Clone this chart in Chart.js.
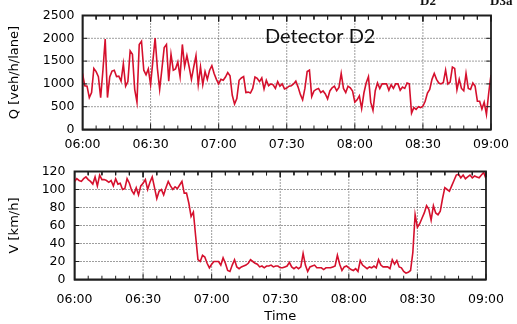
<!DOCTYPE html>
<html>
<head>
<meta charset="utf-8">
<script src="https://cdn.jsdelivr.net/npm/chart.js@4.4.1/dist/chart.umd.min.js"></script>
<style>
  body { margin: 0; background: #fff; }
  #wrap { position: relative; width: 517px; height: 324px; overflow: hidden; }
  canvas { position: absolute; left: 0; }
</style>
</head>
<body>
<div id="wrap">
  <canvas id="flowChart" width="517" height="155" style="top:0"></canvas>
  <canvas id="speedChart" width="517" height="169" style="top:155px"></canvas>
</div>
<script>
/* ---- detector D2, one sample per minute from 06:00 to 09:00 ---- */

// flow Q [veh/h/lane]
const flowQ = [
  1230, 960, 950, 700, 810, 1340, 1270, 1160, 700, 1300,
  1985, 700, 1150, 1280, 1300, 1160, 1170, 1060, 1440, 950,
  1050, 1725, 1650, 880, 600, 1865, 1936, 1300, 1200, 1330,
  985, 1500, 2006, 1340, 880, 1330, 1795, 1865, 1060, 1650,
  1300, 1330, 1480, 1160, 1865, 1380, 1620, 1370, 1100, 1370,
  1620, 985, 1370, 985, 1270, 1100, 1300, 1400, 1230, 1100,
  1000, 1100, 1080, 1150, 1250, 1180, 750, 560, 680, 1080,
  1130, 1160, 810, 820, 800, 900, 1150, 1120, 1050, 1130,
  890, 1080, 960, 1000, 980, 900, 1050, 950, 1000, 890,
  910, 950, 960, 1000, 1060, 930, 770, 650, 900, 1270,
  1300, 720, 845, 880, 900, 810, 845, 780, 670, 845,
  915, 950, 850, 920, 1230, 900, 810, 950, 915, 845,
  600, 650, 740, 460, 800, 1020, 1160, 600, 420, 850,
  1020, 900, 1000, 1000, 1000, 860, 980, 900, 1000, 1000,
  860, 930, 900, 1020, 1000, 360, 480, 440, 500, 480,
  510, 620, 800, 880, 1100, 1230, 1100, 1020, 1000, 1030,
  1300, 1000, 1040, 1370, 1340, 870, 1100, 900, 850, 1230,
  900, 880, 1020, 950, 620, 620, 450, 600, 330, 800,
  1200
];

// speed V [km/h]
const speedV = [
  109, 112, 110, 109, 112, 114, 111, 109, 106, 114,
  104, 116, 111, 111, 110, 108, 110, 104, 112, 106,
  107, 100, 101, 112, 107, 99, 95, 102, 94, 104,
  107, 111, 100, 108, 114, 102, 90, 98, 100, 94,
  102, 109, 104, 100, 103, 101, 105, 109, 96, 96,
  85, 70, 75, 48, 22, 20, 27, 25, 18, 13,
  17, 20, 20, 20, 16, 24, 18, 10, 9, 16,
  22, 14, 12, 14, 15, 16, 18, 22, 20, 18,
  17, 14, 15, 13, 15, 15, 16, 14, 15, 15,
  13, 13, 14, 15, 19, 14, 12, 14, 12, 14,
  29, 16, 9, 14, 15, 16, 13, 13, 13, 11,
  13, 13, 13, 14, 15, 27, 17, 10, 14, 15,
  13, 11, 10, 12, 9, 21, 16, 14, 12, 14,
  13, 15, 13, 22, 16, 14, 14, 14, 12, 22,
  17, 21, 14, 13, 9, 7, 8, 10, 30, 72,
  58, 62, 68, 74, 82, 78, 66, 82, 74, 72,
  76, 90, 102, 100, 98, 104, 110, 116, 117, 113,
  116, 112, 114, 116, 113, 115, 114, 113, 116, 119,
  112
];

const timeTicks = ['06:00', '06:30', '07:00', '07:30', '08:00', '08:30', '09:00'];
const flowTicks = [0, 500, 1000, 1500, 2000, 2500];
const speedTicks = [0, 20, 40, 60, 80, 100, 120];

const RED = 'rgb(213,16,45)';
const FONT = 'DejaVu Sans';
const FRAME = 'rgb(30,30,30)';
const GRID = 'rgb(60,60,60)';
const MINOR_STEP = 6;    // minutes between small time tics
const MAJOR_STEP = 30;   // minutes between labelled tics
const T_MAX = (timeTicks.length - 1) * MAJOR_STEP;

function toPoints(arr) {
  return arr.map((v, i) => ({ x: i, y: v }));
}

/* ---- gnuplot look built from plain line datasets:
        dotted grid, box frame and inward tics ---- */
function frameDatasets(yTicks) {
  const lo = yTicks[0], hi = yTicks[yTicks.length - 1];
  const yLen = (hi - lo) * 0.035;   // tic length along y, ~4 px
  const xLen = T_MAX * 0.012;       // tic length along x, ~5 px
  const grid = [], box = [], tics = [];

  for (let i = 1; i < timeTicks.length - 1; i++) {
    const t = i * MAJOR_STEP;
    grid.push({ x: t, y: lo }, { x: t, y: hi }, { x: t, y: null });
  }
  for (let i = 1; i < yTicks.length - 1; i++) {
    grid.push({ x: 0, y: yTicks[i] }, { x: T_MAX, y: yTicks[i] }, { x: T_MAX, y: null });
  }

  box.push({ x: 0, y: lo }, { x: T_MAX, y: lo }, { x: T_MAX, y: hi }, { x: 0, y: hi }, { x: 0, y: lo });

  for (let m = 0; m <= T_MAX; m += MINOR_STEP) {
    const len = m % MAJOR_STEP === 0 ? yLen * 1.5 : yLen;
    tics.push({ x: m, y: lo }, { x: m, y: lo + len }, { x: m, y: null });
    tics.push({ x: m, y: hi }, { x: m, y: hi - len }, { x: m, y: null });
  }
  yTicks.forEach(v => {
    tics.push({ x: 0, y: v }, { x: xLen, y: v }, { x: xLen, y: null });
    tics.push({ x: T_MAX, y: v }, { x: T_MAX - xLen, y: v }, { x: T_MAX, y: null });
  });

  const base = { pointRadius: 0, tension: 0, fill: false, spanGaps: false };
  return [
    Object.assign({ data: grid, borderColor: GRID, borderWidth: 1, borderDash: [1, 2], order: 3 }, base),
    Object.assign({ data: tics, borderColor: FRAME, borderWidth: 1, order: 0, clip: false }, base),
    Object.assign({ data: box, borderColor: FRAME, borderWidth: 1.8, order: 0, clip: false,
      borderJoinStyle: 'miter', borderCapStyle: 'square' }, base)
  ];
}

/* ---- panel labels on the flow plot ---- */
const flowLabels = {
  id: 'flowLabels',
  afterDraw(chart) {
    const { ctx } = chart;
    ctx.save();
    ctx.fillStyle = '#111';
    ctx.font = '20px Lato';
    ctx.textBaseline = 'alphabetic';
    ctx.fillText('Detector D2', 265, 43);
    ctx.font = 'bold 13px "Liberation Serif"';
    ctx.fillText('D2', 420, 5);
    ctx.fillText('D3a', 490, 5);
    ctx.restore();
  }
};

function timeAxis(pad, height, withTitle) {
  return {
    type: 'linear',
    min: 0,
    max: T_MAX,
    afterBuildTicks: s => { s.ticks = timeTicks.map((_, i) => ({ value: i * MAJOR_STEP })); },
    afterFit: s => { s.height = height; },
    grid: { display: false, drawTicks: false },
    border: { display: true, color: FRAME, width: 1.5 },
    ticks: {
      autoSkip: false,
      maxRotation: 0,
      padding: pad,
      color: '#000',
      font: { family: FONT, size: 12.5 },
      callback: (v, i) => timeTicks[i]
    },
    title: {
      display: withTitle,
      text: 'Time',
      color: '#000',
      font: { family: FONT, size: 13 },
      padding: { top: 0, bottom: 0 }
    }
  };
}

function valueAxis(ticksArr, width, label, pad) {
  return {
    min: ticksArr[0],
    max: ticksArr[ticksArr.length - 1],
    afterBuildTicks: s => { s.ticks = ticksArr.map(v => ({ value: v })); },
    afterFit: s => { s.width = width; },
    grid: { display: false, drawTicks: false },
    border: { display: true, color: FRAME, width: 1.5 },
    ticks: {
      autoSkip: false,
      padding: pad,
      color: '#000',
      font: { family: FONT, size: 12.5 },
      callback: v => String(v)
    },
    title: {
      display: true,
      text: label,
      color: '#000',
      font: { family: FONT, size: 13 },
      padding: { top: 7, bottom: 0 }
    }
  };
}

function lineChart(id, values, yTicks, yAxis, xAxis, padding, extra) {
  const series = {
    data: toPoints(values),
    borderColor: RED,
    borderWidth: 1.6,
    pointRadius: 0,
    tension: 0,
    fill: false,
    order: 1
  };
  return new Chart(document.getElementById(id), {
    type: 'line',
    data: { datasets: [series].concat(frameDatasets(yTicks)) },
    options: {
      responsive: false,
      animation: false,
      layout: { padding },
      plugins: { legend: { display: false }, tooltip: { enabled: false } },
      scales: { x: xAxis, y: yAxis }
    },
    plugins: extra
  });
}

lineChart('flowChart', flowQ, flowTicks,
  valueAxis(flowTicks, 82.5, 'Q [veh/h/lane]', 8),
  timeAxis(8, 25.5, false),
  { top: 11.5, right: 20.5, left: 0, bottom: 0 },
  [flowLabels]);

lineChart('speedChart', speedV, speedTicks,
  valueAxis(speedTicks, 74.5, 'V [km/h]', 9),
  timeAxis(13, 44.5, true),
  { top: 7.5, right: 20.5, left: 0, bottom: 0 },
  []);
</script>
</body>
</html>
